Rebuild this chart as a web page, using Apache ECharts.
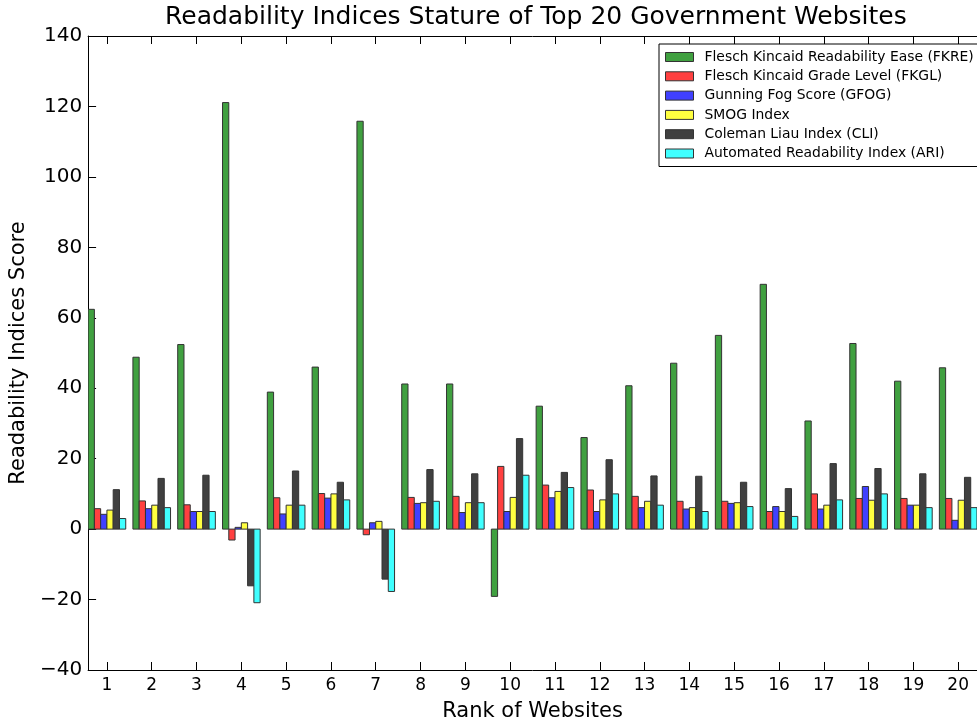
<!DOCTYPE html>
<html>
<head>
<meta charset="utf-8">
<script src="https://cdn.jsdelivr.net/npm/echarts@6/dist/echarts.min.js"></script>
<style>
  html, body { margin: 0; padding: 0; background: #fff; }
  #chart { width: 977px; height: 727px; }
</style>
</head>
<body>
<div id="chart"></div>
<script>
// Website ranks (x positions of the bar groups)
const ranks = [1, 2, 3, 4, 5, 6, 7, 8, 9, 10, 11, 12, 13, 14, 15, 16, 17, 18, 19, 20];

// Readability index scores per website
const fkre = [62.4, 48.8, 52.4, 121.1, 38.9, 46.0, 115.8, 41.2, 41.2, -19.1, 34.9, 26.0, 40.7, 47.1, 55.0, 69.5, 30.7, 52.7, 42.0, 45.8];
const fkgl = [5.8, 8.0, 6.9, -3.1, 8.9, 10.1, -1.6, 9.0, 9.3, 17.8, 12.5, 11.1, 9.3, 7.9, 7.9, 5.0, 10.0, 8.7, 8.7, 8.7];
const gfog = [4.2, 5.8, 5.0, 0.5, 4.3, 8.8, 1.8, 7.3, 4.7, 5.0, 8.9, 5.0, 6.1, 5.7, 7.3, 6.4, 5.7, 12.1, 6.8, 2.5];
const smog = [5.4, 6.8, 5.0, 1.8, 6.8, 10.0, 2.2, 7.5, 7.5, 9.0, 10.7, 8.3, 7.9, 6.1, 7.5, 5.0, 6.8, 8.2, 6.8, 8.2];
const cli  = [11.2, 14.4, 15.3, -16.1, 16.5, 13.3, -14.2, 16.9, 15.7, 25.7, 16.1, 19.7, 15.1, 15.0, 13.3, 11.5, 18.6, 17.2, 15.7, 14.7];
const ari  = [3.0, 6.1, 5.0, -20.9, 6.8, 8.3, -17.7, 7.9, 7.5, 15.3, 11.8, 10.0, 6.8, 5.0, 6.4, 3.6, 8.3, 10.0, 6.1, 6.1];

// Series names and tick values
const seriesNames = [
  'Flesch Kincaid Readability Ease (FKRE)',
  'Flesch Kincaid Grade Level (FKGL)',
  'Gunning Fog Score (GFOG)',
  'SMOG Index',
  'Coleman Liau Index (CLI)',
  'Automated Readability Index (ARI)'
];
const seriesValues = [fkre, fkgl, gfog, smog, cli, ari];
const yTicks = [-40, -20, 0, 20, 40, 60, 80, 100, 120, 140];

// Styling
const colors = ['#40a040', '#ff4040', '#4040ff', '#ffff40', '#404040', '#40ffff'];
const FONT = 'DejaVu Sans';
const BAR_W = 0.14;                       // width of one bar in rank units
const GROUP_HALF = BAR_W * seriesNames.length / 2;
const spine = { show: true, onZero: false, lineStyle: { color: '#000', width: 1 } };

function barRenderer(k) {
  return function (params, api) {
    const x = api.value(0);
    const v = api.value(1);
    const x0 = x - GROUP_HALF + k * BAR_W;
    const p0 = api.coord([x0, 0]);
    const p1 = api.coord([x0 + BAR_W, v]);
    return {
      type: 'rect',
      shape: {
        x: p0[0],
        y: Math.min(p0[1], p1[1]),
        width: p1[0] - p0[0],
        height: Math.abs(p1[1] - p0[1])
      },
      style: { fill: api.visual('color'), stroke: '#333', lineWidth: 1 }
    };
  };
}

const chart = echarts.init(document.getElementById('chart'), null, { renderer: 'canvas' });

const xMin = ranks[0] - GROUP_HALF;
const xMax = ranks[ranks.length - 1] + GROUP_HALF;

chart.setOption({
  animation: false,
  backgroundColor: '#fff',
  textStyle: { fontFamily: FONT, color: '#000' },
  title: {
    text: 'Readability Indices Stature of Top 20 Government Websites',
    left: 165,
    top: 5,
    padding: 0,
    textStyle: { fontFamily: FONT, fontSize: 25, fontWeight: 'normal', color: '#000' }
  },
  legend: {
    orient: 'vertical',
    left: 659,
    top: 44,
    padding: [6, 22, 6, 6],
    borderColor: '#000',
    borderWidth: 1,
    backgroundColor: '#fff',
    itemWidth: 28,
    itemHeight: 9,
    itemGap: 5.3,
    icon: 'rect',
    textStyle: { fontFamily: FONT, fontSize: 13.9, color: '#000', lineHeight: 14, padding: [0, 0, 0, 6] },
    data: seriesNames.map((n, i) => ({
      name: n,
      itemStyle: { color: colors[i], borderColor: '#333', borderWidth: 1 }
    }))
  },
  grid: {
    left: 88,
    top: 36,
    width: 893,
    height: 636,
    show: false
  },
  xAxis: [
    {
      type: 'value',
      position: 'bottom',
      min: xMin,
      max: xMax,
      name: 'Rank of Websites',
      nameLocation: 'middle',
      nameGap: 31,
      nameTextStyle: { fontFamily: FONT, fontSize: 21, color: '#000' },
      axisLine: spine,
      splitLine: { show: false },
      axisTick: { inside: true, length: 8, customValues: ranks, lineStyle: { color: '#000' } },
      axisLabel: { customValues: ranks, fontFamily: FONT, fontSize: 17, color: '#000', margin: 7 }
    },
    {
      type: 'value',
      position: 'top',
      min: xMin,
      max: xMax,
      axisLine: spine,
      splitLine: { show: false },
      axisTick: { inside: true, length: 8, customValues: ranks, lineStyle: { color: '#000' } },
      axisLabel: { show: false }
    }
  ],
  yAxis: {
    type: 'value',
    min: yTicks[0],
    max: yTicks[yTicks.length - 1],
    interval: 20,
    name: 'Readability Indices Score',
    nameLocation: 'middle',
    nameGap: 57,
    nameTextStyle: { fontFamily: FONT, fontSize: 21, color: '#000' },
    axisLine: spine,
    splitLine: { show: false },
    axisTick: { inside: true, length: 8, lineStyle: { color: '#000' } },
    axisLabel: {
      fontFamily: FONT, fontSize: 20, color: '#000', margin: 6,
      formatter: v => String(v).replace('-', '\u2212')
    }
  },
  series: seriesNames.map((name, k) => ({
    name: name,
    type: 'custom',
    xAxisIndex: 0,
    clip: true,
    itemStyle: { color: colors[k] },
    renderItem: barRenderer(k),
    encode: { x: 0, y: 1 },
    data: ranks.map((r, i) => [r, seriesValues[k][i]])
  }))
});
</script>
</body>
</html>
